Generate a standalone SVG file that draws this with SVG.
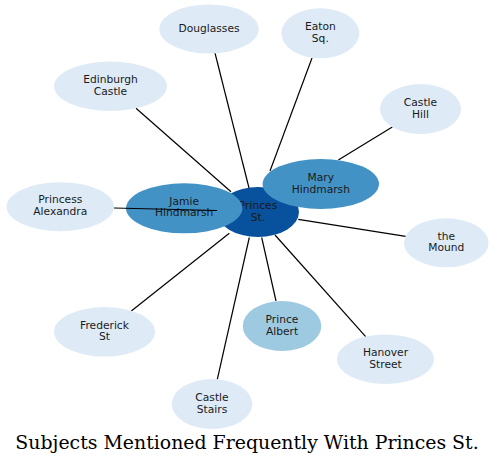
<svg xmlns="http://www.w3.org/2000/svg" width="495" height="465" viewBox="0 0 495 465">
<style>
.n text{font-family:"DejaVu Sans",sans-serif;font-size:10.7px;text-anchor:middle;fill:#1a1a1a}
.pale{fill:#deebf7}
.mid{fill:#4292c6}
.light{fill:#9ecae1}
.dark{fill:#08519c}
#edges line{stroke:#000;stroke-width:1.2}
.title{font-family:"DejaVu Serif",serif;font-size:18.9px;text-anchor:middle;fill:#000}
</style>
<rect width="495" height="465" fill="#fff"/>
<g id="node-princes" class="n"><ellipse class="dark" cx="258" cy="212" rx="41" ry="25"/><text x="258" y="209">Princes</text><text x="258" y="220.7">St.</text></g>
<g id="node-jamie" class="n"><ellipse class="mid" cx="184.2" cy="208.3" rx="58.2" ry="25"/><text x="184.2" y="205">Jamie</text><text x="184.2" y="216.3">Hindmarsh</text></g>
<g id="edges">
<line x1="215" y1="53" x2="249" y2="188"/>
<line x1="312" y1="58" x2="270" y2="171"/>
<line x1="392.3" y1="127" x2="338.3" y2="160"/>
<line x1="136" y1="108.3" x2="231" y2="191.7"/>
<line x1="114" y1="208" x2="217" y2="210.5"/>
<line x1="405.7" y1="236.3" x2="298.3" y2="219.3"/>
<line x1="131.3" y1="311" x2="229.3" y2="233.3"/>
<line x1="217.3" y1="379.3" x2="249.3" y2="237.5"/>
<line x1="276" y1="301" x2="261.7" y2="237.5"/>
<line x1="365.7" y1="336.7" x2="275" y2="235"/>
</g>
<g id="node-mary" class="n"><ellipse class="mid" cx="320.8" cy="184" rx="58.2" ry="25"/><text x="320.8" y="181.1">Mary</text><text x="320.8" y="192.8">Hindmarsh</text></g>
<g id="node-douglasses" class="n"><ellipse class="pale" cx="209" cy="29" rx="49.7" ry="24.5"/><text x="209" y="32.2">Douglasses</text></g>
<g id="node-eaton" class="n"><ellipse class="pale" cx="320.3" cy="33.3" rx="39" ry="25"/><text x="320.3" y="29.8">Eaton</text><text x="320.3" y="41.5">Sq.</text></g>
<g id="node-castlehill" class="n"><ellipse class="pale" cx="420.5" cy="109" rx="40.5" ry="25"/><text x="420.5" y="105.8">Castle</text><text x="420.5" y="117.5">Hill</text></g>
<g id="node-edinburgh" class="n"><ellipse class="pale" cx="110.5" cy="86.3" rx="56.5" ry="24.7"/><text x="110.5" y="82.8">Edinburgh</text><text x="110.5" y="94.5">Castle</text></g>
<g id="node-alexandra" class="n"><ellipse class="pale" cx="60.3" cy="206.7" rx="53.7" ry="24.5"/><text x="60.3" y="203.1">Princess</text><text x="60.3" y="214.8">Alexandra</text></g>
<g id="node-mound" class="n"><ellipse class="pale" cx="446.3" cy="242.8" rx="42.3" ry="24.5"/><text x="446.3" y="239.5">the</text><text x="446.3" y="251.2">Mound</text></g>
<g id="node-albert" class="n"><ellipse class="light" cx="282" cy="326" rx="39.3" ry="25"/><text x="282" y="322.8">Prince</text><text x="282" y="334.5">Albert</text></g>
<g id="node-frederick" class="n"><ellipse class="pale" cx="104.5" cy="331.8" rx="50.5" ry="24.8"/><text x="104.5" y="328.5">Frederick</text><text x="104.5" y="340.2">St</text></g>
<g id="node-hanover" class="n"><ellipse class="pale" cx="385.5" cy="359.2" rx="48.5" ry="24.8"/><text x="385.5" y="355.8">Hanover</text><text x="385.5" y="367.5">Street</text></g>
<g id="node-stairs" class="n"><ellipse class="pale" cx="212" cy="404" rx="40.3" ry="25"/><text x="212" y="400.8">Castle</text><text x="212" y="412.5">Stairs</text></g>
<text class="title" x="247" y="449">Subjects Mentioned Frequently With Princes St.</text>
</svg>
